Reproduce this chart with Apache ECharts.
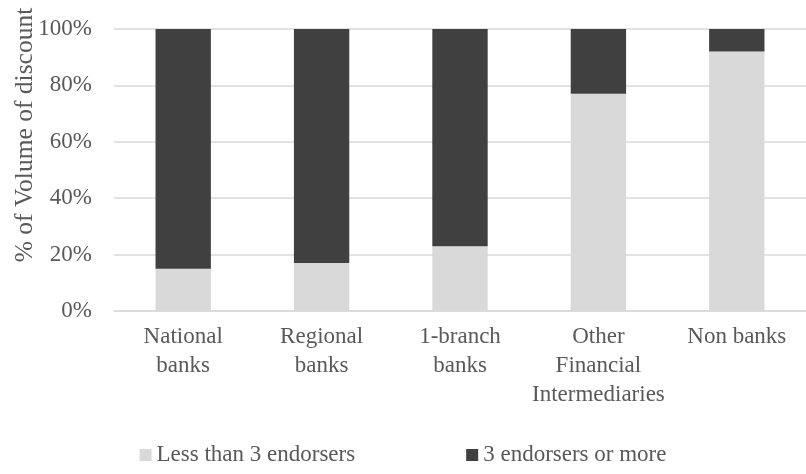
<!DOCTYPE html>
<html>
<head>
<meta charset="utf-8">
<script src="https://cdn.jsdelivr.net/npm/echarts@6/dist/echarts.min.js"></script>
<style>
  html, body { margin: 0; padding: 0; background: #fff; }
  #chart { width: 806px; height: 474px; }
</style>
</head>
<body>
<div id="chart"></div>
<script>
// Share of discount volume by number of endorsers, per type of lender
const categories = ['National\nbanks', 'Regional\nbanks', '1-branch\nbanks', 'Other\nFinancial\nIntermediaries', 'Non banks'];
const lessThan3 = [15, 17, 23, 77, 92];
const threeOrMore = [85, 83, 77, 23, 8];
const yTicks = [0, 20, 40, 60, 80, 100];
const seriesNames = ['Less than 3 endorsers', '3 endorsers or more'];
const axisTitle = '% of Volume of discount';

const FONT = '"Liberation Serif", "Times New Roman", serif';
const TEXT = '#595959';

const chart = echarts.init(document.getElementById('chart'), null, { renderer: 'canvas' });
chart.setOption({
  animation: false,
  backgroundColor: '#fff',
  textStyle: { fontFamily: FONT, color: TEXT },
  grid: { left: 114, right: -10, top: 29, bottom: 163, containLabel: false },
  legend: {
    data: seriesNames,
    bottom: 2,
    left: 'center',
    icon: 'rect',
    itemWidth: 12,
    itemHeight: 12,
    itemGap: 111,
    textStyle: { fontFamily: FONT, fontSize: 23, color: TEXT, lineHeight: 24 }
  },
  xAxis: {
    type: 'category',
    data: categories,
    axisLine: { show: true, lineStyle: { color: '#d9d9d9', width: 1.5 } },
    axisTick: { show: false },
    axisLabel: {
      interval: 0,
      margin: 11,
      fontFamily: FONT,
      fontSize: 23,
      lineHeight: 29,
      color: TEXT,
      align: 'center'
    }
  },
  yAxis: {
    type: 'value',
    min: yTicks[0],
    max: yTicks[yTicks.length - 1],
    interval: yTicks[1] - yTicks[0],
    axisLine: { show: false },
    axisTick: { show: false },
    splitLine: { lineStyle: { color: '#d9d9d9', width: 1.5 } },
    axisLabel: {
      margin: 22,
      fontFamily: FONT,
      fontSize: 23,
      color: TEXT,
      formatter: v => v + '%'
    }
  },
  graphic: [{
    type: 'text',
    x: 25,
    y: 135,
    rotation: Math.PI / 2,
    style: {
      text: axisTitle,
      fontFamily: FONT,
      fontSize: 25.5,
      fill: TEXT,
      textAlign: 'center',
      textVerticalAlign: 'middle'
    }
  }],
  series: [
    {
      name: seriesNames[0],
      type: 'bar',
      stack: 'total',
      barWidth: '40%',
      itemStyle: { color: '#d9d9d9' },
      data: lessThan3
    },
    {
      name: seriesNames[1],
      type: 'bar',
      stack: 'total',
      barWidth: '40%',
      itemStyle: { color: '#404040' },
      data: threeOrMore
    }
  ]
});
</script>
</body>
</html>
